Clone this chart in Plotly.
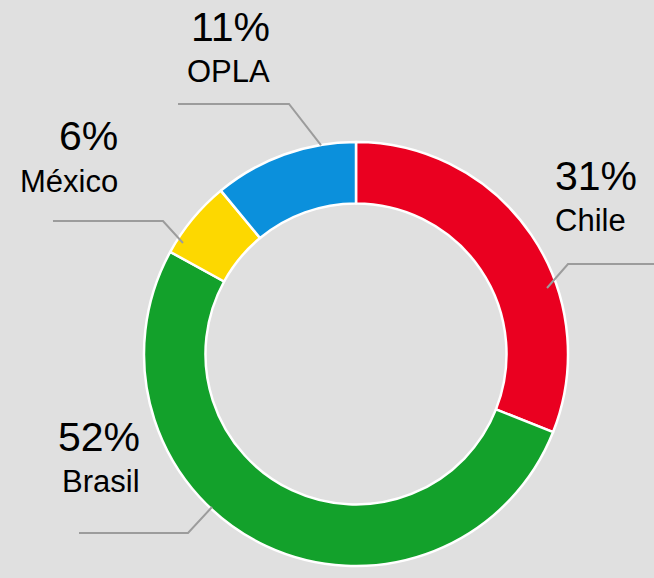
import plotly.graph_objects as go

# data
regions = ["Chile", "Brasil", "México", "OPLA"]
shares = [31, 52, 6, 11]
colors = ["#ea0020", "#13a12b", "#fdd800", "#0b90dc"]

W, H = 654, 578
BG = "#e0e0e0"
FONT = "Liberation Sans, Arial, sans-serif"


def px(x, y):
    """pixel coords (top-left origin) -> paper coords"""
    return x / W, 1 - y / H


# label placement: (pct center y, name center y, anchor x, xanchor)
label_pos = {
    "Chile": (176, 220, 553, "left"),
    "Brasil": (437, 481, 142, "right"),
    "México": (136, 181, 120, "right"),
    "OPLA": (27, 71, 272, "right"),
}
# leader lines in pixels
leaders = {
    "Chile": [(654, 264), (568, 264), (547, 288)],
    "Brasil": [(79, 533), (188, 533), (212, 507)],
    "México": [(53, 221), (163, 221), (183, 243)],
    "OPLA": [(178, 104), (289, 104), (321, 145)],
}

cx, cy, r = 356, 354, 212
x0, y0 = px(cx - r, cy + r)
x1, y1 = px(cx + r, cy - r)

fig = go.Figure(go.Pie(
    labels=regions,
    values=shares,
    marker=dict(colors=colors, line=dict(color="white", width=2.5)),
    hole=0.71,
    sort=False,
    direction="clockwise",
    rotation=0,
    textinfo="none",
    hoverinfo="label+percent",
    domain=dict(x=[x0, x1], y=[y0, y1]),
))

annotations = []
shapes = []
for name, val in zip(regions, shares):
    py_pct, py_name, ax, anchor = label_pos[name]
    xa, ya = px(ax, py_pct)
    annotations.append(dict(
        x=xa, y=ya, xref="paper", yref="paper", text=f"{val}%",
        showarrow=False, xanchor=anchor, yanchor="middle",
        font=dict(family=FONT, size=41, color="black"),
    ))
    xa, ya = px(ax, py_name)
    annotations.append(dict(
        x=xa, y=ya, xref="paper", yref="paper", text=name,
        showarrow=False, xanchor=anchor, yanchor="middle",
        font=dict(family=FONT, size=31, color="black"),
    ))
    pts = [px(x, y) for x, y in leaders[name]]
    path = "M " + " L ".join(f"{a:.4f},{b:.4f}" for a, b in pts)
    shapes.append(dict(
        type="path", path=path, xref="paper", yref="paper",
        line=dict(color="#9c9c9c", width=2),
    ))

fig.update_layout(
    width=W, height=H,
    margin=dict(l=0, r=0, t=0, b=0),
    paper_bgcolor=BG,
    plot_bgcolor=BG,
    showlegend=False,
    annotations=annotations,
    shapes=shapes,
)

# drop the default page margin so the figure fills the window
fig.write_html(
    "out.html",
    config={"displayModeBar": False},
    post_script="document.body.style.margin='0';document.body.style.background='%s';" % BG,
)
